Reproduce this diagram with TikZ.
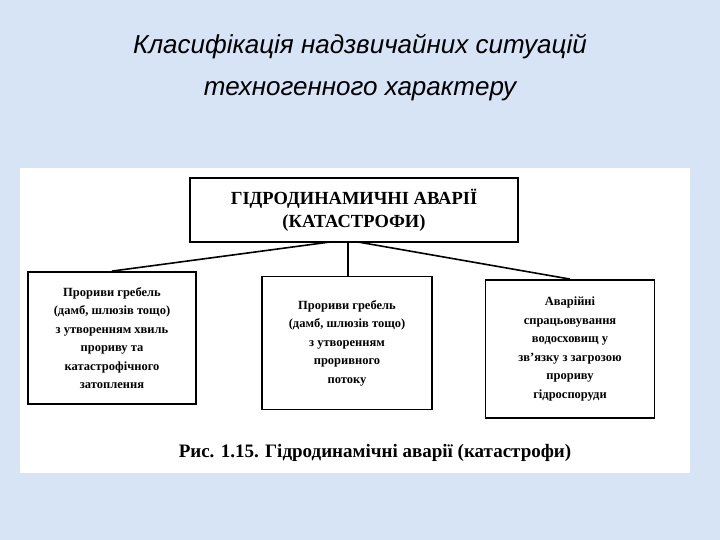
\documentclass[tikz,border=0pt]{standalone}
\usepackage{fontspec}
\setmainfont{Liberation Serif}
\newfontfamily\titlefont{Liberation Sans}
\definecolor{bgc}{RGB}{214,228,246}
\begin{document}
\begin{tikzpicture}[x=1pt,y=-1pt,
  bx/.style={draw=black,line width=1.8pt,fill=white,inner sep=2pt,align=center,font=\bfseries\fontsize{12.5}{18.5}\selectfont},
  ln/.style={line width=1.6pt}]
\fill[bgc] (0,0) rectangle (720,540);
\useasboundingbox (0,0) rectangle (720,540);
\node[font=\titlefont\itshape\fontsize{26}{42}\selectfont,align=center] (title) at (360,68) {Класифікація надзвичайних ситуацій\\техногенного характеру};
\fill[white] (20,168) rectangle (690,473);
\node[bx,minimum width=328,minimum height=64,font=\bfseries\fontsize{18.5}{23}\selectfont] (top) at (354,210) {ГІДРОДИНАМИЧНІ АВАРІЇ\\(КАТАСТРОФИ)};
\node[bx,minimum width=168,minimum height=132] (l) at (112,338) {Прориви гребель\\(дамб, шлюзів тощо)\\з утворенням хвиль\\прориву та\\катастрофічного\\затоплення};
\node[bx,minimum width=170,minimum height=133] (m) at (347,343) {Прориви гребель\\(дамб, шлюзів тощо)\\з утворенням\\проривного\\потоку};
\node[bx,minimum width=169,minimum height=138] (r) at (570,349) {Аварійні\\спрацьовування\\водосховищ у\\зв’язку з загрозою\\прориву\\гідроспоруди};
\coordinate (a1) at (330,242); \coordinate (a2) at (348,242); \coordinate (a3) at (358,242);
\draw[ln] (a1) -- (l.north);
\draw[ln] (a2) -- (a2 |- m.north);
\draw[ln] (a3) -- (r.north);
\node[font=\bfseries\fontsize{19}{22}\selectfont] (cap) at (375,453) {Рис. 1.15. Гідродинамічні аварії (катастрофи)};
\end{tikzpicture}
\end{document}
